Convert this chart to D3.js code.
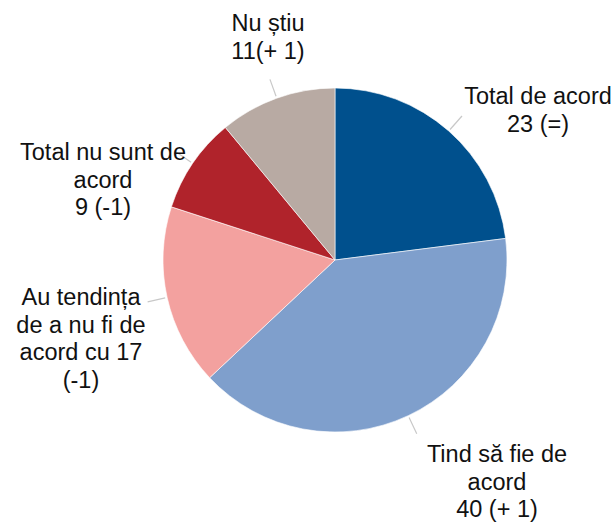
<!DOCTYPE html>
<html>
<head>
<meta charset="utf-8">
<script src="https://cdn.jsdelivr.net/npm/d3@7"></script>
<style>
  body { margin: 0; background: #fff; }
  svg text { font-family: "Liberation Sans", Arial, sans-serif; fill: #111; }
</style>
</head>
<body>
<svg width="616" height="524"></svg>
<script>
var width = 616, height = 524;

// data (percent, clockwise from 12 o'clock)
var categories = ["Total de acord", "Tind să fie de acord", "Au tendința de a nu fi de acord cu", "Total nu sunt de acord", "Nu știu"];
var values = [23, 40, 17, 9, 11];
var changes = ["(=)", "(+ 1)", "(-1)", "(-1)", "(+ 1)"];
var labelLines = [
  ["Total de acord", "23 (=)"],
  ["Tind să fie de", "acord", "40 (+ 1)"],
  ["Au tendința", "de a nu fi de", "acord cu 17", "(-1)"],
  ["Total nu sunt de", "acord", "9 (-1)"],
  ["Nu știu", "11(+ 1)"]
];
var colors = ["#00508d", "#7f9fcc", "#f3a19f", "#b0232b", "#b8aaa3"];

var cx = 335, cy = 260, radius = 172;
// where each label block is centred (x) and its first baseline (y)
var labelAnchor = [[538, 104], [497, 462], [81, 305], [103, 160], [268, 31]];

var svg = d3.select('svg');
var g = svg.append('g').attr('transform', 'translate(' + cx + ',' + cy + ')');

var pie = d3.pie().sort(null).value(function(d) { return d; });
var arcs = pie(values);

var arc = d3.arc().innerRadius(0).outerRadius(radius);

g.selectAll('.slice')
  .data(arcs)
  .enter()
  .append('path')
  .attr('class', 'slice')
  .attr('d', arc)
  .attr('fill', function(d, i) { return colors[i]; })
  .attr('stroke', '#fff')
  .attr('stroke-width', 0.6);

// faint leader lines
var inner = d3.arc().innerRadius(radius + 2).outerRadius(radius + 2);
var outer = d3.arc().innerRadius(radius + 20).outerRadius(radius + 20);
g.selectAll('.leader')
  .data(arcs)
  .enter()
  .append('line')
  .attr('class', 'leader')
  .attr('x1', function(d) { return inner.centroid(d)[0]; })
  .attr('y1', function(d) { return inner.centroid(d)[1]; })
  .attr('x2', function(d) { return outer.centroid(d)[0]; })
  .attr('y2', function(d) { return outer.centroid(d)[1]; })
  .attr('stroke', '#c8c8c8')
  .attr('stroke-width', 1.2);

var labels = svg.selectAll('.lbl')
  .data(labelLines)
  .enter()
  .append('text')
  .attr('class', 'lbl')
  .attr('text-anchor', 'middle')
  .style('font-size', '23.5px');

labels.each(function(lines, i) {
  var t = d3.select(this);
  lines.forEach(function(s, k) {
    t.append('tspan')
      .attr('x', labelAnchor[i][0])
      .attr('y', labelAnchor[i][1] + k * 27.7)
      .text(s);
  });
});
</script>
</body>
</html>
